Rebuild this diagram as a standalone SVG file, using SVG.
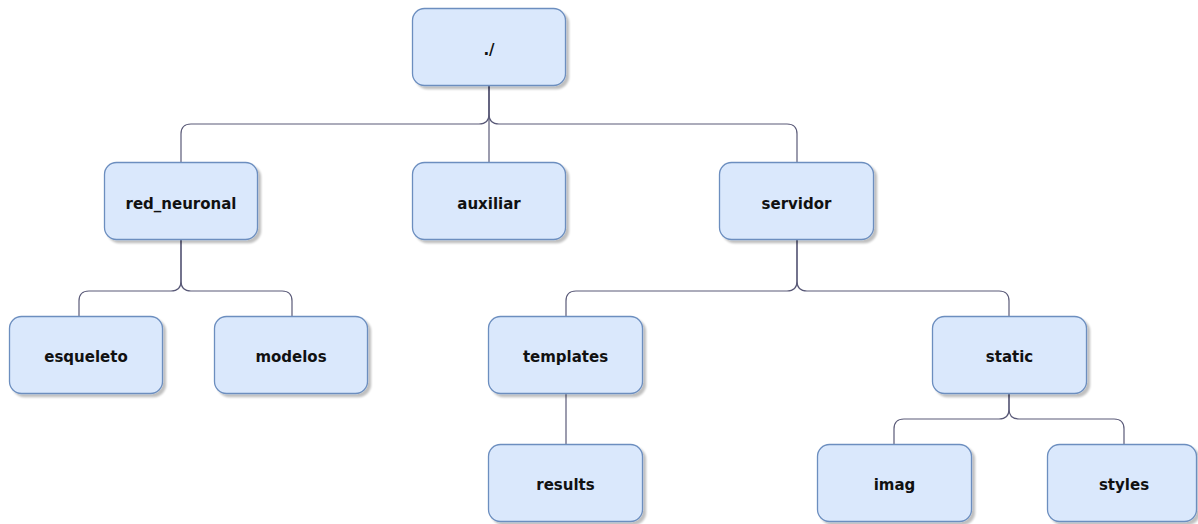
<svg xmlns="http://www.w3.org/2000/svg" width="1198" height="524" viewBox="0 0 1198 524">
  <defs>
    <filter id="sh" x="-10%" y="-10%" width="130%" height="130%">
      <feGaussianBlur in="SourceAlpha" stdDeviation="1.2"/>
      <feOffset dx="3" dy="3" result="o"/>
      <feComponentTransfer><feFuncA type="linear" slope="0.25"/></feComponentTransfer>
      <feMerge><feMergeNode/><feMergeNode in="SourceGraphic"/></feMerge>
    </filter>
  </defs>
  <style>
    .box { fill: #dae8fc; stroke: #6c8ebf; stroke-width: 1.3; filter: url(#sh); }
    .lbl { font-family: "DejaVu Sans", Verdana, sans-serif; font-weight: bold; font-size: 15px; fill: #111; text-anchor: middle; }
    .edge { fill: none; stroke: #5a5a78; stroke-width: 1.2; }
  </style>
  <rect width="1198" height="524" fill="#ffffff"/>
  <g id="connectors">
    <path class="edge" d="M489 86 V114 Q489 124 479 124 H191 Q181 124 181 134 V163"/>
    <path class="edge" d="M489 86 V163"/>
    <path class="edge" d="M489 86 V114 Q489 124 499 124 H787 Q797 124 797 134 V163"/>
    <path class="edge" d="M181 240 V281 Q181 291 171 291 H89 Q79 291 79 301 V317"/>
    <path class="edge" d="M181 240 V281 Q181 291 191 291 H282 Q292 291 292 301 V317"/>
    <path class="edge" d="M797 240 V281 Q797 291 787 291 H576 Q566 291 566 301 V317"/>
    <path class="edge" d="M797 240 V281 Q797 291 807 291 H999 Q1009 291 1009 301 V317"/>
    <path class="edge" d="M566 394 V445"/>
    <path class="edge" d="M1009 394 V409 Q1009 419 999 419 H904 Q894 419 894 429 V445"/>
    <path class="edge" d="M1009 394 V409 Q1009 419 1019 419 H1114 Q1124 419 1124 429 V445"/>
  </g>
  <g id="root"><rect class="box" x="412.5" y="8.5" width="153" height="77" rx="12"/><text class="lbl" x="489" y="54.5">./</text></g>
  <g id="red_neuronal"><rect class="box" x="104.5" y="162.5" width="153" height="77" rx="12"/><text class="lbl" x="181" y="208.5">red_neuronal</text></g>
  <g id="auxiliar"><rect class="box" x="412.5" y="162.5" width="153" height="77" rx="12"/><text class="lbl" x="489" y="208.5">auxiliar</text></g>
  <g id="servidor"><rect class="box" x="719.5" y="162.5" width="154" height="77" rx="12"/><text class="lbl" x="796.5" y="208.5">servidor</text></g>
  <g id="esqueleto"><rect class="box" x="9.5" y="316.5" width="153" height="77" rx="12"/><text class="lbl" x="86" y="362">esqueleto</text></g>
  <g id="modelos"><rect class="box" x="214.5" y="316.5" width="153" height="77" rx="12"/><text class="lbl" x="291" y="362">modelos</text></g>
  <g id="templates"><rect class="box" x="488.5" y="316.5" width="154" height="77" rx="12"/><text class="lbl" x="565.5" y="362">templates</text></g>
  <g id="static"><rect class="box" x="932.5" y="316.5" width="154" height="77" rx="12"/><text class="lbl" x="1009.5" y="362">static</text></g>
  <g id="results"><rect class="box" x="488.5" y="444.5" width="154" height="77" rx="12"/><text class="lbl" x="565.5" y="490">results</text></g>
  <g id="imag"><rect class="box" x="817.5" y="444.5" width="154" height="77" rx="12"/><text class="lbl" x="894.5" y="490">imag</text></g>
  <g id="styles"><rect class="box" x="1047.5" y="444.5" width="149" height="77" rx="12"/><text class="lbl" x="1124" y="490">styles</text></g>
</svg>
